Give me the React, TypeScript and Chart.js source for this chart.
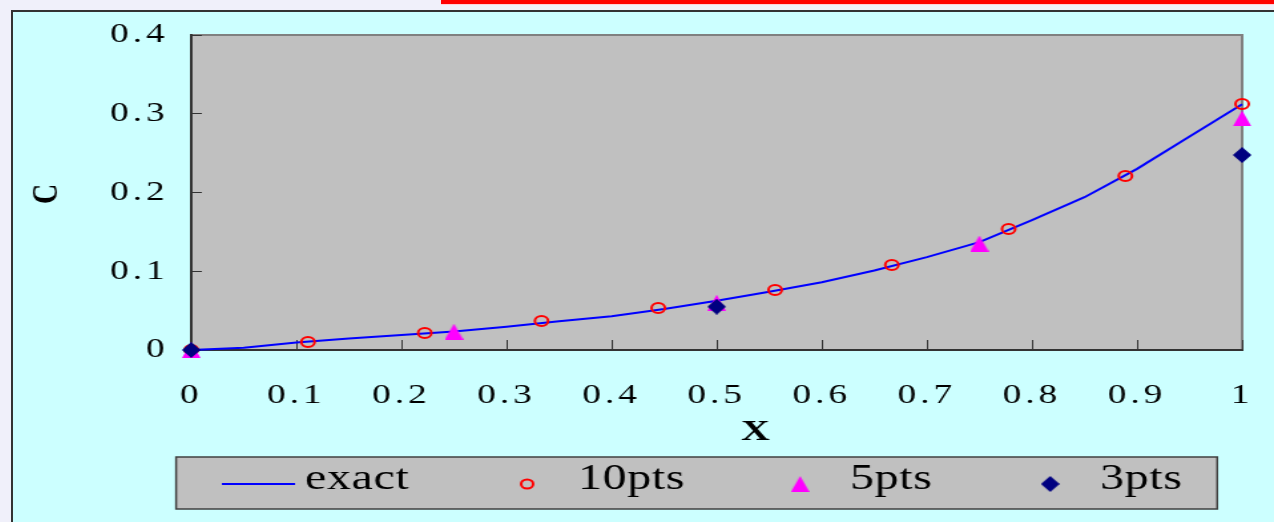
import React, { useEffect, useRef } from "react";
import { Chart, registerables } from "chart.js";

Chart.register(...registerables);

// exact solution curve
const xExact = [0, 0.05, 0.1, 0.15, 0.2, 0.25, 0.3, 0.35, 0.4, 0.45, 0.5, 0.55, 0.6, 0.65, 0.7, 0.75, 0.8, 0.85, 0.9, 0.95, 1];
const cExact = [0, 0.003, 0.0095, 0.0145, 0.019, 0.0235, 0.0295, 0.0365, 0.043, 0.052, 0.0625, 0.074, 0.086, 0.101, 0.118, 0.137, 0.165, 0.194, 0.23, 0.271, 0.312];

// 10 points
const x10 = [0, 0.1111, 0.2222, 0.3333, 0.4444, 0.5556, 0.6667, 0.7778, 0.8889, 1];
const c10 = [0, 0.0102, 0.0216, 0.0368, 0.0533, 0.0762, 0.108, 0.1537, 0.221, 0.3124];

// 5 points
const x5 = [0, 0.25, 0.5, 0.75, 1];
const c5 = [0, 0.0233, 0.06, 0.1352, 0.294];

// 3 points
const x3 = [0, 0.5, 1];
const c3 = [0, 0.055, 0.2476];

const seriesLabels = ["exact", "10pts", "5pts", "3pts"];
const xTitle = "X";
const yTitle = "C";

const toPts = (xs: number[], ys: number[]) => xs.map((x, i) => ({ x, y: ys[i] }));
const fmt = (v: any) => String(Number(Number(v).toFixed(3)));

function makeTriangle(color: string) {
  const c = document.createElement("canvas");
  c.width = 14;
  c.height = 16;
  const g = c.getContext("2d")!;
  g.fillStyle = color;
  g.beginPath();
  g.moveTo(7, 0);
  g.lineTo(14, 16);
  g.lineTo(0, 16);
  g.closePath();
  g.fill();
  return c;
}

function makeDiamond(color: string) {
  const c = document.createElement("canvas");
  c.width = 14;
  c.height = 16;
  const g = c.getContext("2d")!;
  g.fillStyle = color;
  g.beginPath();
  g.moveTo(7, 0);
  g.lineTo(14, 8);
  g.lineTo(7, 16);
  g.lineTo(0, 8);
  g.closePath();
  g.fill();
  return c;
}

export default function App() {
  const ref = useRef<HTMLCanvasElement | null>(null);

  useEffect(() => {
    if (!ref.current) return;
    const tri = makeTriangle("#ff00ff");
    const dia = makeDiamond("#000080");
    const serif = "'Liberation Serif', 'Times New Roman', serif";

    const decor = {
      id: "decor",
      beforeDraw(chart: any) {
        const { ctx, chartArea: a } = chart;
        ctx.save();
        ctx.fillStyle = "#c0c0c0";
        ctx.fillRect(a.left, a.top, a.right - a.left, a.bottom - a.top);
        ctx.strokeStyle = "#808080";
        ctx.lineWidth = 2;
        ctx.beginPath();
        ctx.moveTo(a.left, a.top);
        ctx.lineTo(a.right, a.top);
        ctx.lineTo(a.right, a.bottom);
        ctx.stroke();
        ctx.restore();
        (ctx as any).letterSpacing = "3px";
      },
      afterDraw(chart: any) {
        const { ctx } = chart;
        (ctx as any).letterSpacing = "0px";
        ctx.save();
        // x axis title
        ctx.fillStyle = "#000";
        ctx.font = `bold 30px ${serif}`;
        ctx.textAlign = "center";
        ctx.textBaseline = "middle";
        ctx.fillText(xTitle, 558, 420.5);

        // legend box
        const lx = 122.6, ly = 445, lw = 782.7, lh = 52;
        ctx.fillStyle = "#c0c0c0";
        ctx.fillRect(lx, ly, lw, lh);
        ctx.strokeStyle = "#404040";
        ctx.lineWidth = 1.5;
        ctx.strokeRect(lx, ly, lw, lh);
        const cy = 472;
        // exact line
        ctx.strokeStyle = "#0000ff";
        ctx.lineWidth = 2;
        ctx.beginPath();
        ctx.moveTo(157, cy);
        ctx.lineTo(212, cy);
        ctx.stroke();
        // circle
        ctx.strokeStyle = "#ff0000";
        ctx.beginPath();
        ctx.arc(386.5, cy, 4.5, 0, Math.PI * 2);
        ctx.stroke();
        ctx.drawImage(tri, 591.7 - 7, cy - 8);
        ctx.drawImage(dia, 779.7 - 7, cy - 8);
        ctx.fillStyle = "#000";
        ctx.font = `36px ${serif}`;
        ctx.textAlign = "left";
        (ctx as any).letterSpacing = "0.5px";
        const tx = [219.5, 424.8, 629.3, 817.3];
        seriesLabels.forEach((t, i) => ctx.fillText(t, tx[i], 468));
        ctx.restore();
        (ctx as any).letterSpacing = "0px";
      },
    };

    const tickFont = { family: serif, size: 28 };

    const chart = new Chart(ref.current, {
      type: "scatter",
      data: {
        datasets: [
          {
            label: seriesLabels[0],
            data: toPts(xExact, cExact),
            showLine: true,
            borderColor: "#0000ff",
            backgroundColor: "#0000ff",
            borderWidth: 2,
            pointRadius: 0,
            tension: 0,
            order: 3,
            clip: false as any,
          },
          {
            label: seriesLabels[1],
            data: toPts(x10, c10),
            pointStyle: "circle",
            pointRadius: 5,
            pointBorderWidth: 2,
            borderColor: "#ff0000",
            backgroundColor: "rgba(0,0,0,0)",
            order: 2,
            clip: false as any,
          },
          {
            label: seriesLabels[2],
            data: toPts(x5, c5),
            pointStyle: tri as any,
            pointRadius: 8,
            order: 1,
            clip: false as any,
          },
          {
            label: seriesLabels[3],
            data: toPts(x3, c3),
            pointStyle: dia as any,
            pointRadius: 8,
            order: 0,
            clip: false as any,
          },
        ],
      },
      options: {
        animation: false,
        responsive: false,
        devicePixelRatio: 1,
        layout: { autoPadding: false, padding: { left: 0, top: 23, right: 24, bottom: 0 } },
        plugins: { legend: { display: false }, tooltip: { enabled: false } },
        scales: {
          x: {
            type: "linear",
            min: 0,
            max: 1,
            ticks: { stepSize: 0.1, padding: 39, color: "#000", font: tickFont, callback: fmt },
            grid: { drawOnChartArea: false, tickLength: -10, color: "#333", lineWidth: 1 },
            border: { color: "#333", width: 2 },
            afterFit: (s: any) => {
              s.height = 172;
              s.paddingLeft = 0;
              s.paddingRight = 0;
            },
          },
          y: {
            min: 0,
            max: 0.4,
            ticks: { stepSize: 0.1, padding: 25, color: "#000", font: tickFont, callback: fmt },
            grid: { drawOnChartArea: false, tickLength: -8, color: "#333", lineWidth: 1 },
            border: { color: "#333", width: 2 },
            title: {
              display: true,
              text: yTitle,
              color: "#000",
              font: { family: serif, size: 28, weight: "bold" },
              padding: { top: 9, bottom: 0 },
            },
            afterFit: (s: any) => {
              s.width = 134;
              s.paddingTop = 0;
              s.paddingBottom = 0;
            },
          },
        },
      },
      plugins: [decor],
    });
    return () => chart.destroy();
  }, []);

  return (
    <div
      style={{
        position: "absolute",
        left: 0,
        top: 0,
        width: 1274,
        height: 522,
        overflow: "hidden",
        background: "#f0f0fa",
      }}
    >
      <div
        style={{
          position: "absolute",
          left: 441,
          top: 0,
          width: 833,
          height: 4,
          background: "#ff0000",
          borderBottom: "1px solid #ffd0d8",
        }}
      />
      <div
        style={{
          position: "absolute",
          left: 11,
          top: 10,
          width: 1300,
          height: 540,
          background: "#ccffff",
          borderLeft: "2px solid #333",
          borderTop: "2px solid #333",
        }}
      >
        <div
          style={{
            position: "absolute",
            left: 0,
            top: 0,
            width: 948,
            height: 510,
            transform: "scaleX(1.3302)",
            transformOrigin: "0 0",
          }}
        >
          <canvas ref={ref} width={948} height={510} style={{ display: "block" }} />
        </div>
      </div>
    </div>
  );
}
